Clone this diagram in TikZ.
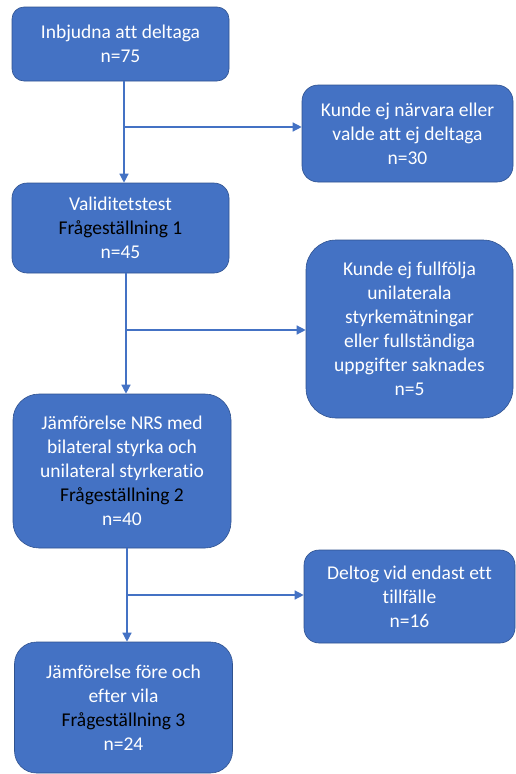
\documentclass[tikz,border=0pt]{standalone}
\usepackage{fontspec}
\setmainfont{Carlito}[Ligatures=NoCommon]
\usepackage{xcolor}
\usepackage{tikz}
\usetikzlibrary{arrows.meta}
\definecolor{flowblue}{HTML}{4472C4}
\definecolor{flowedge}{HTML}{2F528F}

\begin{document}
\begin{tikzpicture}[x=1pt, y=-1pt,
  box/.style={draw=flowedge, line width=0.6pt, fill=flowblue, text=white, align=center,
    inner sep=0pt, rounded corners=#1, font=\fontsize{19.5}{24}\selectfont},
  flow/.style={draw=flowblue, line width=1.3pt, -{Triangle[length=9pt,width=9pt]}}]
  \useasboundingbox (0,0) rectangle (515,774);

  % main column
  \node[box=12pt, minimum width=217pt, minimum height=74pt] (inbjudna) at (120.5,44)
    {Inbjudna att deltaga\\n=75};
  \node[box=15pt, minimum width=217pt, minimum height=90pt] (validitet) at (120.5,228)
    {Validitetstest\\{\color{black}Frågeställning 1}\\n=45};
  \node[box=26pt, minimum width=218pt, minimum height=154pt] (jamfnrs) at (122,471)
    {Jämförelse NRS med\\bilateral styrka och\\unilateral styrkeratio\\{\color{black}Frågeställning 2}\\n=40};
  \node[box=22pt, minimum width=218pt, minimum height=131pt] (jamfvila) at (123.5,707.5)
    {Jämförelse före och\\efter vila\\{\color{black}Frågeställning 3}\\n=24};

  % exclusions
  \node[box=16pt, minimum width=211pt, minimum height=97pt] (narvaro) at (407.5,133.5)
    {Kunde ej närvara eller\\valde att ej deltaga\\n=30};
  \node[box=30pt, minimum width=207pt, minimum height=178pt] (fullfolja) at (409.5,329)
    {Kunde ej fullfölja\\unilaterala\\styrkemätningar\\eller fullständiga\\uppgifter saknades\\n=5};
  \node[box=15pt, minimum width=211pt, minimum height=93pt] (deltog) at (409.5,596.5)
    {Deltog vid endast ett\\tillfälle\\n=16};

  % branch points
  \coordinate (s1) at (124,127);
  \coordinate (s2) at (126,330);
  \coordinate (s3) at (127,595);

  \draw[flow] (inbjudna.south -| s1) -- (validitet.north -| s1);
  \draw[flow] (s1) -- (s1 -| narvaro.west);
  \draw[flow] (validitet.south -| s2) -- (jamfnrs.north -| s2);
  \draw[flow] (s2) -- (s2 -| fullfolja.west);
  \draw[flow] (jamfnrs.south -| s3) -- (jamfvila.north -| s3);
  \draw[flow] (s3) -- (s3 -| deltog.west);
\end{tikzpicture}
\end{document}
